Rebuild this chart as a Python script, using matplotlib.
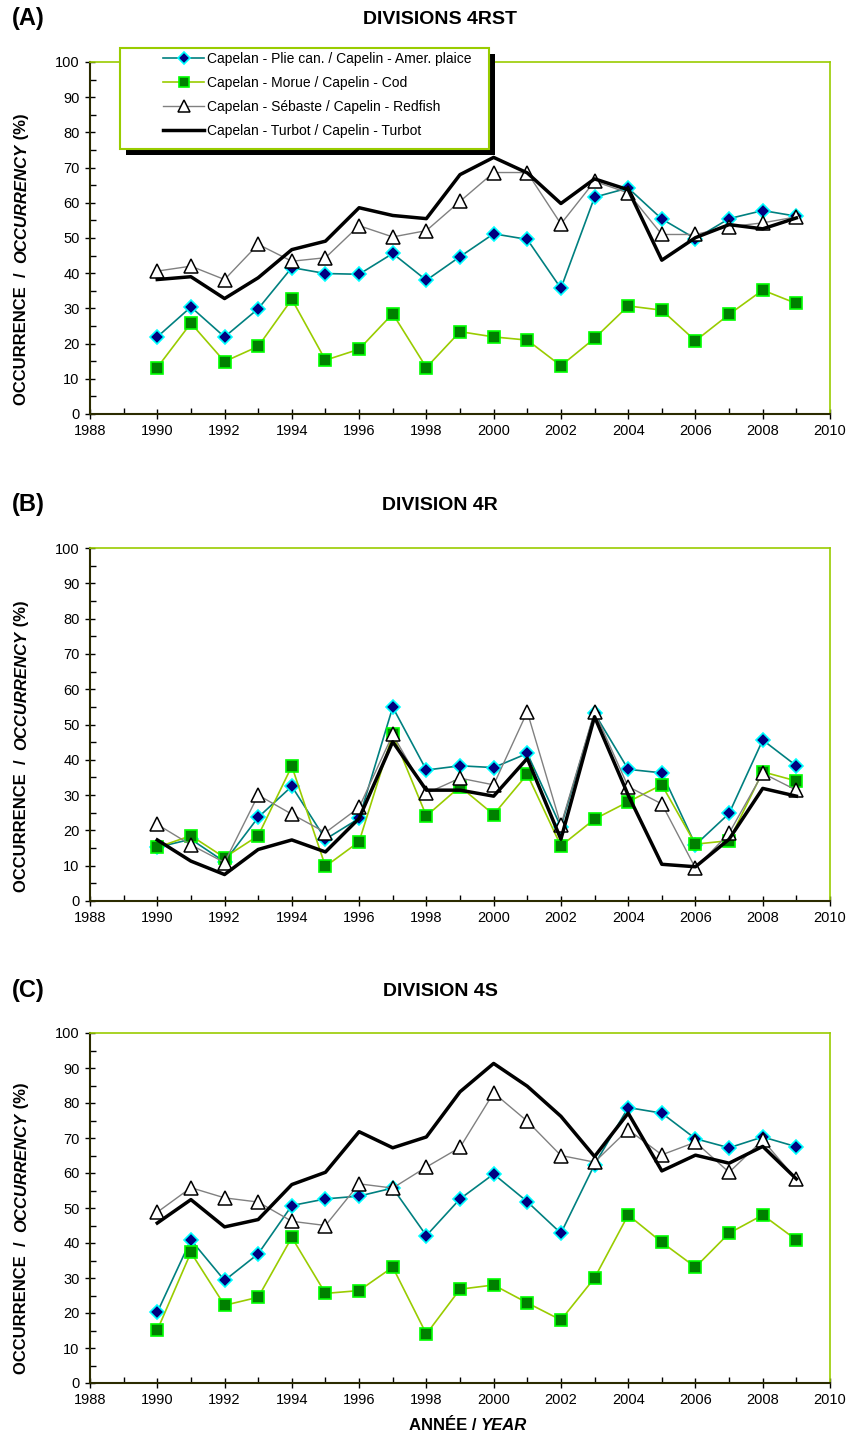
import matplotlib
matplotlib.use("Agg")
import matplotlib.pyplot as plt
import matplotlib.patches as mpatches
from matplotlib.ticker import MultipleLocator

# years sampled
years = list(range(1990, 2010))

# Divisions 4RST
plaice_4rst = [21.9, 30.4, 21.9, 29.9, 41.6, 39.9, 39.7, 45.6, 38.0, 44.7,
               51.2, 49.6, 35.7, 61.6, 64.2, 55.4, 49.8, 55.5, 57.8, 56.2]
cod_4rst = [13.2, 25.8, 14.9, 19.2, 32.6, 15.3, 18.4, 28.5, 13.2, 23.4,
            21.9, 21.0, 13.7, 21.5, 30.7, 29.5, 20.8, 28.3, 35.2, 31.4]
redfish_4rst = [40.6, 42.0, 38.2, 48.2, 43.4, 44.4, 53.5, 50.3, 52.1, 60.4,
                68.6, 68.6, 54.0, 66.1, 62.8, 51.0, 51.0, 53.2, 54.3, 56.0]
turbot_4rst = [38.2, 39.0, 32.8, 38.7, 46.7, 49.1, 58.6, 56.4, 55.5, 68.0,
               72.9, 68.5, 59.8, 66.8, 63.7, 43.7, 50.1, 53.8, 52.6, 55.7]

# Division 4R
plaice_4r = [15.2, 17.5, 11.1, 23.7, 32.5, 17.5, 23.4, 54.9, 37.1, 38.3,
             37.8, 41.8, 21.0, 53.2, 37.3, 36.3, 15.9, 24.8, 45.6, 38.3]
cod_4r = [15.2, 18.5, 12.3, 18.5, 38.2, 9.8, 16.8, 47.2, 24.1, 32.4,
          24.5, 35.9, 15.6, 23.2, 28.1, 32.9, 16.1, 17.1, 36.6, 34.0]
redfish_4r = [21.7, 15.9, 10.9, 30.0, 24.6, 19.4, 26.5, 47.2, 30.5, 34.8,
              32.9, 53.6, 21.5, 53.6, 32.4, 27.5, 9.3, 19.2, 36.2, 31.4]
turbot_4r = [17.3, 11.3, 7.5, 14.6, 17.3, 13.9, 23.4, 45.1, 31.4, 31.4,
             29.7, 40.4, 17.5, 52.2, 30.0, 10.4, 9.7, 17.5, 31.9, 29.7]

# Division 4S
plaice_4s = [20.2, 40.9, 29.3, 36.9, 50.7, 52.6, 53.4, 55.7, 42.1, 52.6,
             59.7, 51.8, 42.8, 62.4, 78.7, 77.1, 69.8, 67.2, 70.3, 67.5]
cod_4s = [15.1, 37.3, 22.2, 24.5, 41.6, 25.6, 26.4, 33.1, 14.0, 26.8,
          28.0, 22.9, 18.0, 30.0, 48.0, 40.2, 33.1, 42.8, 48.0, 40.9]
redfish_4s = [48.8, 55.8, 52.9, 51.7, 46.2, 45.0, 56.9, 55.7, 61.7, 67.3,
              82.9, 74.8, 65.0, 63.1, 72.4, 65.2, 68.8, 60.2, 69.4, 58.2]
turbot_4s = [45.7, 52.4, 44.6, 46.7, 56.7, 60.2, 71.8, 67.2, 70.3, 83.2,
             91.3, 84.8, 76.2, 64.7, 77.1, 60.6, 65.1, 62.8, 67.6, 58.3]

series_labels = ["Capelan - Plie can. / Capelin - Amer. plaice",
                 "Capelan - Morue / Capelin - Cod",
                 "Capelan - Sébaste / Capelin - Redfish",
                 "Capelan - Turbot / Capelin - Turbot"]

panels = [
    ("(A)", "DIVISIONS 4RST", plaice_4rst, cod_4rst, redfish_4rst, turbot_4rst),
    ("(B)", "DIVISION 4R", plaice_4r, cod_4r, redfish_4r, turbot_4r),
    ("(C)", "DIVISION 4S", plaice_4s, cod_4s, redfish_4s, turbot_4s),
]

W, H = 853, 1437
plt.rcParams["font.family"] = ["Liberation Sans", "DejaVu Sans"]

fig = plt.figure(figsize=(W / 100, H / 100), dpi=100)

# axes boxes in pixels: (top, bottom)
boxes = [(62, 414), (548, 901), (1033, 1383)]
left_px, right_px = 90, 830
green = "#99cc00"
dark = "#2b2b00"

label_parts = []
for (tag, title, plaice, cod, redfish, turbot), (top, bot) in zip(panels, boxes):
    ax = fig.add_axes([left_px / W, 1 - bot / H, (right_px - left_px) / W, (bot - top) / H])

    ax.plot(years, plaice, color="#008080", lw=1.2, marker="D", ms=7.2,
            mfc="#000080", mec="#00ffff", mew=1.2, label=series_labels[0])
    ax.plot(years, cod, color=green, lw=1.2, marker="s", ms=9,
            mfc="#008000", mec="#00ff00", mew=1.2, label=series_labels[1])
    ax.plot(years, redfish, color="#808080", lw=1.0, marker="^", ms=9.5,
            mfc="white", mec="black", mew=1.1, label=series_labels[2])
    ax.plot(years, turbot, color="black", lw=2.5, label=series_labels[3])

    ax.set_xlim(1988, 2010)
    ax.set_ylim(0, 100)
    ax.xaxis.set_major_locator(MultipleLocator(2))
    ax.xaxis.set_minor_locator(MultipleLocator(1))
    ax.yaxis.set_major_locator(MultipleLocator(10))
    ax.yaxis.set_minor_locator(MultipleLocator(5))
    ax.tick_params(which="major", direction="inout", length=7, width=1,
                   labelsize=10.5, color="black", pad=4)
    ax.tick_params(which="minor", direction="in", length=4, width=1, color="black")

    for s in ["top", "right"]:
        ax.spines[s].set_color(green)
        ax.spines[s].set_linewidth(1.2)
    for s in ["left", "bottom"]:
        ax.spines[s].set_color(dark)
        ax.spines[s].set_linewidth(1.5)

    # panel tag and title
    fig.text(12 / W, 1 - (top - 43) / H, tag, fontsize=17, fontweight="bold",
             ha="left", va="center")
    fig.text(440 / W, 1 - (top - 42) / H, title, fontsize=14, fontweight="bold",
             ha="center", va="center")

    # y label, middle word in italics
    t1 = fig.text(22 / W, 1 - (bot - 9) / H, "OCCURRENCE  /  ", rotation=90,
                  fontsize=12, fontweight="bold", ha="center", va="bottom")
    t2 = fig.text(22 / W, 0.5, "OCCURRENCY", rotation=90, fontsize=12,
                  fontweight="bold", style="italic", ha="center", va="bottom")
    t3 = fig.text(22 / W, 0.5, " (%)", rotation=90, fontsize=12,
                  fontweight="bold", ha="center", va="bottom")
    label_parts.append((t1, t2, t3))

# chain the label pieces once sizes are known
fig.canvas.draw()
renderer = fig.canvas.get_renderer()
for t1, t2, t3 in label_parts:
    bb1 = t1.get_window_extent(renderer)
    t2.set_y(bb1.y1 / H)
    bb2 = t2.get_window_extent(renderer)
    t3.set_y((bb1.y1 + bb2.height) / H)

# x label on bottom panel
xl1 = fig.text(0, 1 - 1425 / H, "ANNÉE / ", fontsize=12, fontweight="bold",
               ha="left", va="center")
xl2 = fig.text(0, 1 - 1425 / H, "YEAR", fontsize=12, fontweight="bold",
               style="italic", ha="left", va="center")
fig.canvas.draw()
w1 = xl1.get_window_extent(renderer).width
w2 = xl2.get_window_extent(renderer).width
x_start = 468 - (w1 + w2) / 2
xl1.set_x(x_start / W)
xl2.set_x((x_start + w1) / W)

# legend box with shadow on top panel
bx0, bx1, by0, by1 = 120, 489, 48, 149
shadow = mpatches.Rectangle(((bx0 + 6) / W, 1 - (by1 + 6) / H), (bx1 - bx0) / W,
                            (by1 - by0) / H, transform=fig.transFigure,
                            facecolor="black", edgecolor="none", zorder=5)
box = mpatches.Rectangle((bx0 / W, 1 - by1 / H), (bx1 - bx0) / W, (by1 - by0) / H,
                         transform=fig.transFigure, facecolor="white",
                         edgecolor=green, linewidth=1.5, zorder=6)
fig.add_artist(shadow)
fig.add_artist(box)
handles, labels = fig.axes[0].get_legend_handles_labels()
leg = fig.legend(handles, labels, loc="upper left", bbox_to_anchor=(160 / W, 1 - 49 / H),
                 frameon=False, fontsize=10, handlelength=3.0, handletextpad=0.2,
                 labelspacing=0.72, borderpad=0.2, borderaxespad=0)
leg.set_zorder(7)
for h in leg.legend_handles:
    if h.get_marker() not in (None, "None", ""):
        h.set_markersize(h.get_markersize() * 0.85)

fig.savefig("out.png", dpi=100)
